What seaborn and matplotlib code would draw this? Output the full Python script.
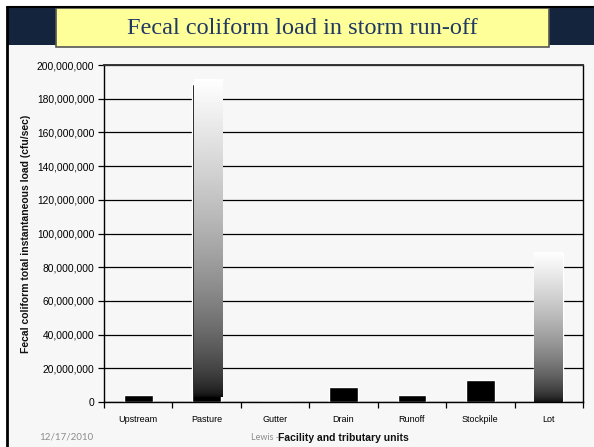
import numpy as np
import seaborn as sns
import matplotlib.pyplot as plt
from matplotlib.patches import Rectangle
from matplotlib.lines import Line2D
from matplotlib.ticker import FuncFormatter, FixedLocator
from matplotlib.transforms import offset_copy

units = ['Upstream', 'Pasture', 'Gutter', 'Drain', 'Runoff', 'Stockpile', 'Lot']
load = [4.0e6, 188.7e6, 0, 8.9e6, 4.0e6, 13.1e6, 88.5e6]
gradient_units = ['Pasture', 'Lot']
yticks = np.arange(0, 200e6 + 1, 20e6)

sns.set_theme(style='white')
plt.rcParams['font.family'] = ['Liberation Sans', 'DejaVu Sans']

fig = plt.figure(figsize=(5.94, 4.47), dpi=100)
fig.patch.set_facecolor('white')

# slide background, header band, border
fig.patches.append(Rectangle((8/594, 0), 1, 1 - 8/447, transform=fig.transFigure,
                             facecolor='#f7f7f7', edgecolor='none', zorder=-3))
fig.patches.append(Rectangle((8/594, 1 - 45/447), 1, 37/447, transform=fig.transFigure,
                             facecolor='#14243d', edgecolor='none', zorder=-2))
fig.lines.append(Line2D([7/594, 7/594], [0, 1 - 7/447], transform=fig.transFigure,
                        color='black', lw=2, zorder=3))
fig.lines.append(Line2D([7/594, 1], [1 - 7/447, 1 - 7/447], transform=fig.transFigure,
                        color='black', lw=1.5, zorder=3))
fig.patches.append(Rectangle((56/594, 1 - 47/447), 493/594, 39/447, transform=fig.transFigure,
                             facecolor='#ffff99', edgecolor='#555555', lw=1.2, zorder=2))
fig.text(302/594, 1 - 28/447, 'Fecal coliform load in storm run-off', ha='center', va='center',
         fontsize=17.5, color='#1f3864', family=['Liberation Serif', 'DejaVu Serif'], zorder=4)

ax = fig.add_axes([104/594, 1 - 402/447, 479/594, 337/447])
ax.set_zorder(5)
ax.set_facecolor('#f7f7f7')
ax.set_axisbelow(True)

sns.barplot(x=units, y=load, ax=ax, color='black', saturation=1, width=0.42, zorder=2)

# white-to-black fill, brighter through the middle like the original
grad = (np.linspace(0, 1, 256) ** 0.6).reshape(-1, 1)
shift = offset_copy(ax.transData, fig=fig, x=2, y=5, units='dots')
for bar, name in zip(ax.patches, units):
    if name not in gradient_units:
        continue
    x0, y0 = bar.get_x(), bar.get_y()
    x1, y1 = x0 + bar.get_width(), y0 + bar.get_height()
    im = ax.imshow(grad, extent=[x0, x1, y0, y1], origin='lower', aspect='auto',
                   cmap='gray', vmin=-0.05, vmax=1, zorder=3, interpolation='bilinear')
    if name == 'Pasture':
        # original chart draws this bar with a dark shadow offset
        im.set_transform(shift)
    else:
        bar.set_facecolor('none')

ax.set_xlim(-0.5, len(units) - 0.5)
ax.set_ylim(0, 200e6)
ax.set_yticks(yticks)
ax.yaxis.set_major_formatter(FuncFormatter(lambda v, p: f'{v:,.0f}'))
ax.yaxis.grid(True, color='black', lw=0.9)
ax.xaxis.set_minor_locator(FixedLocator(np.arange(-0.5, len(units), 1)))
ax.tick_params(axis='x', which='major', length=0, pad=9, labelsize=6.5, colors='black')
ax.tick_params(axis='x', which='minor', bottom=True, length=4, width=0.9, color='black')
ax.tick_params(axis='y', left=True, length=4, width=0.9, pad=3, labelsize=7.4,
               colors='black')
for s in ax.spines.values():
    s.set_visible(True)
    s.set_color('black')
    s.set_linewidth(1)
ax.spines['top'].set_color('#333333')
ax.spines['top'].set_linewidth(1.4)

ax.set_xlabel('Facility and tributary units', fontsize=7.5, fontweight='bold', color='#111111')
ax.xaxis.set_label_coords(0.5, -0.093)
ax.set_ylabel('Fecal coliform total instantaneous load (cfu/sec)', fontsize=7.5,
              fontweight='bold', color='#111111')
ax.yaxis.set_label_coords(-0.152, 0.5)

fig.text(66/594, 1 - 437/447, '12/17/2010', ha='center', va='center', fontsize=7,
         color='#8c8c8c', family=['Lato', 'DejaVu Sans'])
fig.text(251/594, 1 - 437/447, 'Lewis -', ha='left', va='center', fontsize=6.5,
         color='#8c8c8c', family=['Lato', 'DejaVu Sans'], zorder=0)

plt.savefig('out.png', dpi=100)
